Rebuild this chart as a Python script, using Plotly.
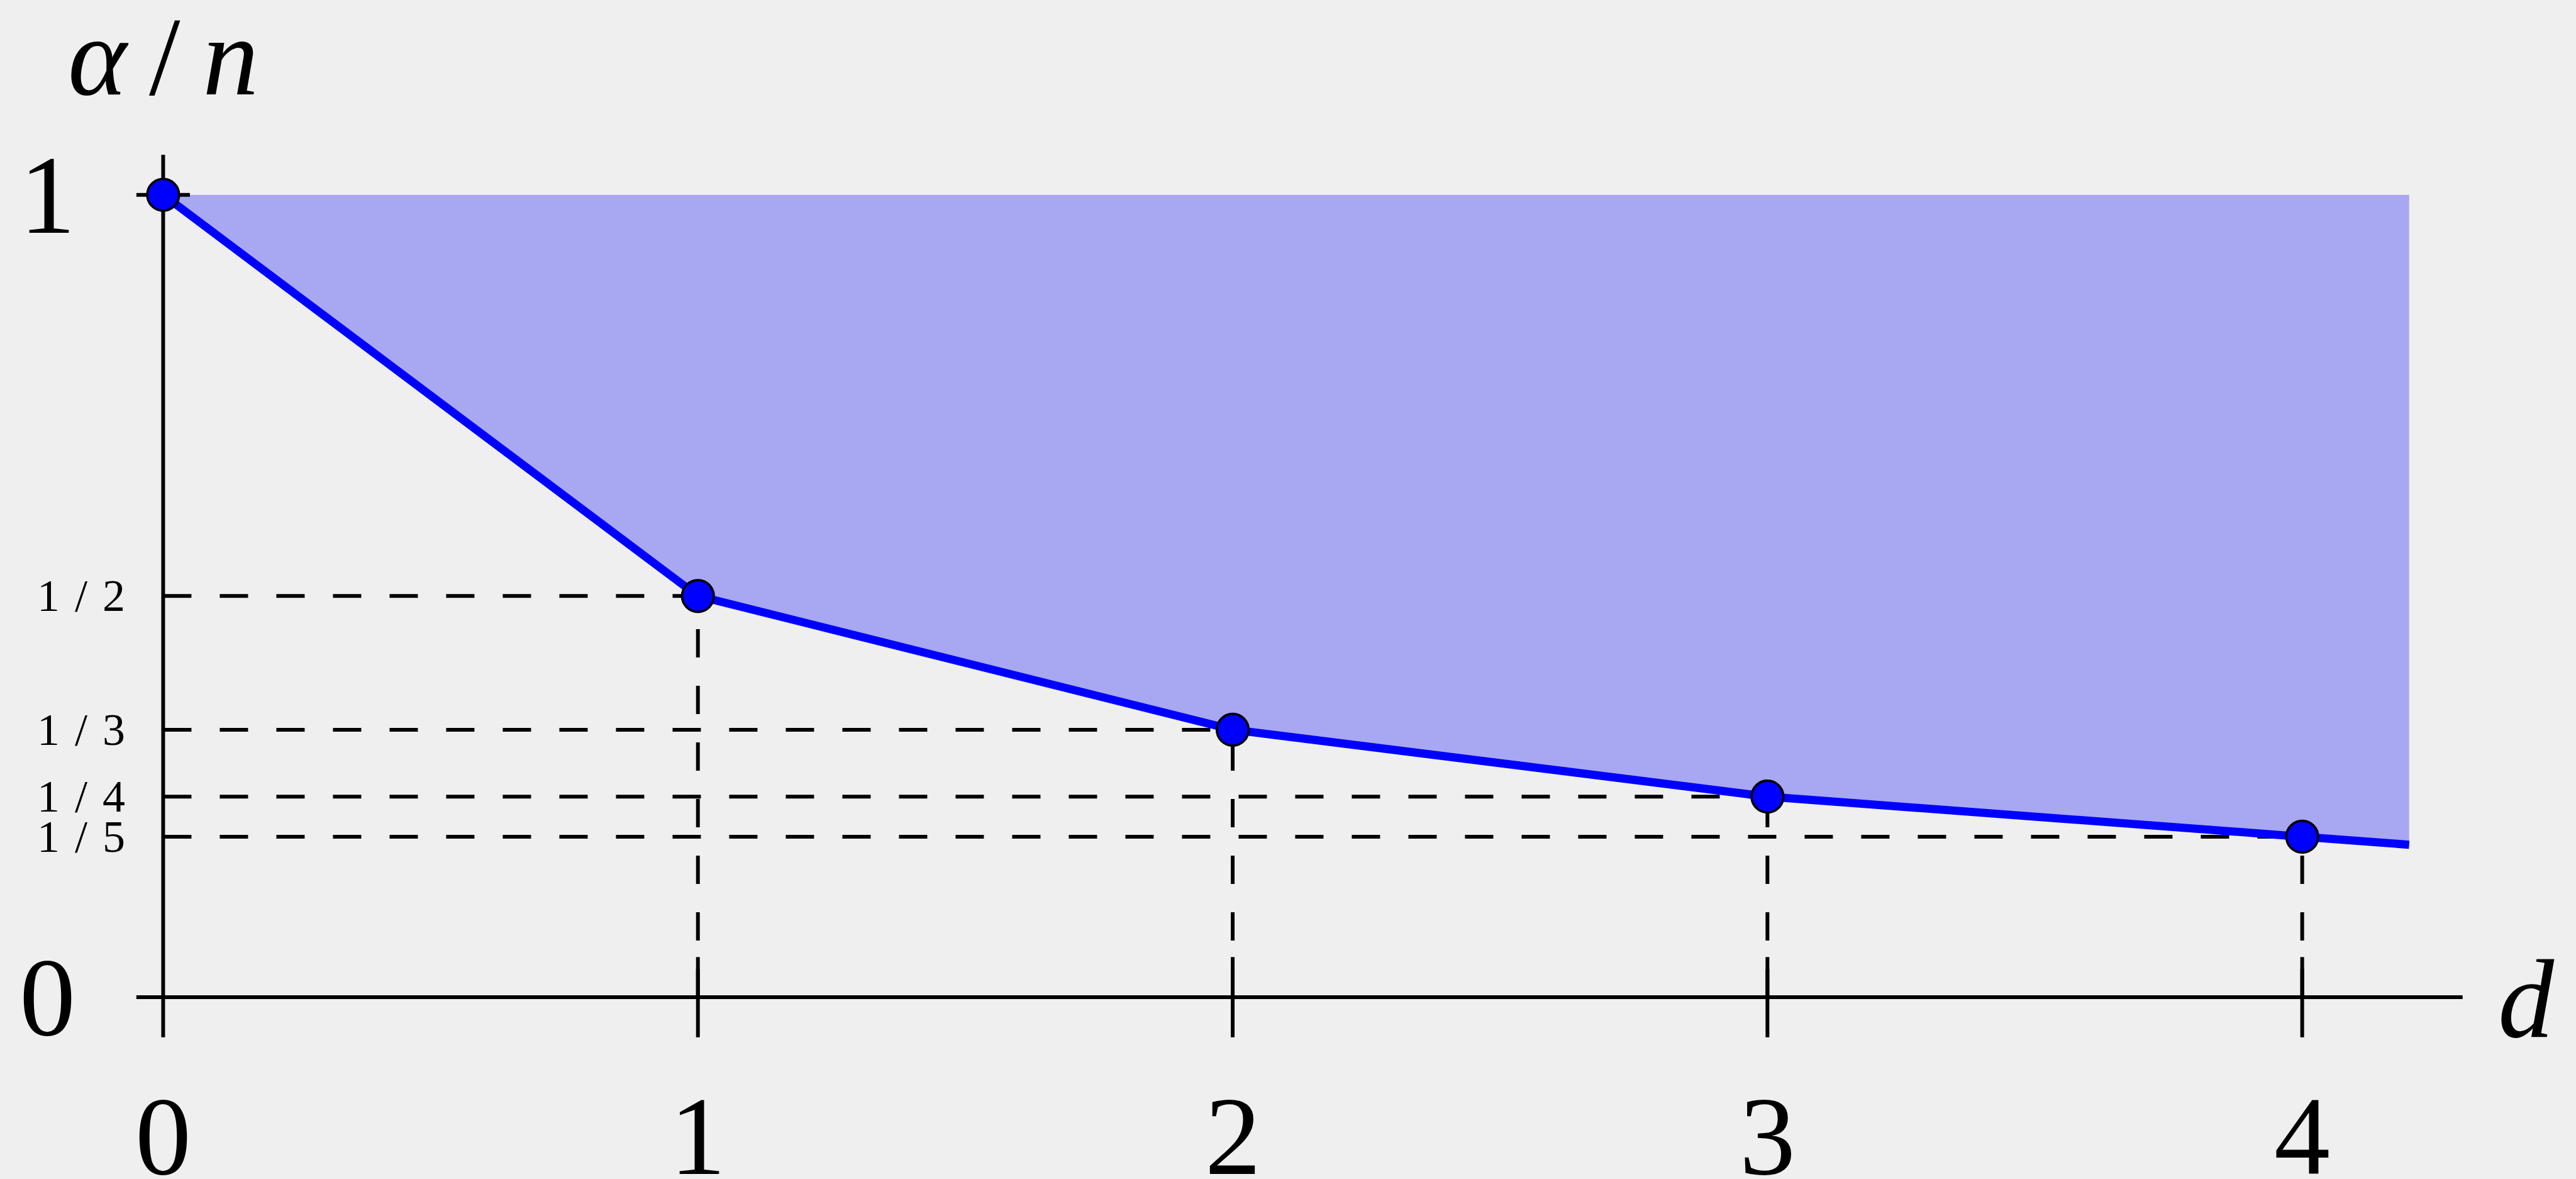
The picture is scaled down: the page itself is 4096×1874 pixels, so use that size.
import plotly.graph_objects as go

# ---- data ----
d_vals = [0, 1, 2, 3, 4]
alpha_vals = [1, 1/2, 1/3, 1/4, 1/5]
d_end = 4.2
alpha_end = 0.19
fill_top = 1.0
x_tick_vals = [0, 1, 2, 3, 4]
x_tick_labels = ["0", "1", "2", "3", "4"]
y_main_vals = [0, 1]
y_main_labels = ["0", "1"]
y_frac_vals = [1/2, 1/3, 1/4, 1/5]
y_frac_labels = ["1\u2004/\u20042", "1\u2004/\u20043", "1\u2004/\u20044", "1\u2004/\u20045"]

W, H = 4096, 1874
X_RANGE = [-0.3051, 4.5120]
Y_RANGE = [-0.2266, 1.2428]

BG = "#efefef"
FILL = "#a7a7f2"
BLUE = "#0000ff"
BLACK = "#000000"
FONT = "Liberation Serif"
LW = 6
DASH = "45px,45px"

fig = go.Figure()

# shaded region above the curve
fig.add_trace(go.Scatter(
    x=d_vals + [d_end, d_end, d_vals[0]],
    y=alpha_vals + [alpha_end, fill_top, fill_top],
    mode="lines", fill="toself", fillcolor=FILL,
    line=dict(width=0, color=FILL), hoverinfo="skip"))

# dashed guides
for dv, av in zip(d_vals[1:], alpha_vals[1:]):
    fig.add_trace(go.Scatter(x=[0, dv], y=[av, av], mode="lines",
                             line=dict(color=BLACK, width=LW, dash=DASH), hoverinfo="skip"))
    fig.add_trace(go.Scatter(x=[dv, dv], y=[0, av], mode="lines",
                             line=dict(color=BLACK, width=LW, dash=DASH), hoverinfo="skip"))

# axes
fig.add_trace(go.Scatter(x=[-0.05, 4.3], y=[0, 0], mode="lines",
                         line=dict(color=BLACK, width=LW), hoverinfo="skip"))
fig.add_trace(go.Scatter(x=[0, 0], y=[-0.05, 1.05], mode="lines",
                         line=dict(color=BLACK, width=LW), hoverinfo="skip"))
# ticks
for xv in x_tick_vals[1:]:
    fig.add_trace(go.Scatter(x=[xv, xv], y=[-0.05, 0.05], mode="lines",
                             line=dict(color=BLACK, width=LW), hoverinfo="skip"))
for yv in y_main_vals:
    fig.add_trace(go.Scatter(x=[-0.05, 0.05], y=[yv, yv], mode="lines",
                             line=dict(color=BLACK, width=LW), hoverinfo="skip"))

# curve
fig.add_trace(go.Scatter(x=d_vals + [d_end], y=alpha_vals + [alpha_end], mode="lines",
                         line=dict(color=BLUE, width=13), hoverinfo="skip"))
fig.add_trace(go.Scatter(x=d_vals, y=alpha_vals, mode="markers",
                         marker=dict(color=BLUE, size=50.5, line=dict(color=BLACK, width=3.7)),
                         hoverinfo="skip"))

ann = []
big = dict(family=FONT, size=178, color=BLACK)
small = dict(family=FONT, size=72, color=BLACK)
for xv, lab in zip(x_tick_vals, x_tick_labels):
    ann.append(dict(x=xv, y=-0.1733, text=lab, showarrow=False, font=big,
                    xanchor="center", yanchor="middle"))
for yv, lab in zip(y_main_vals, y_main_labels):
    ann.append(dict(x=-0.216, y=yv, text=lab, showarrow=False, font=big,
                    xanchor="center", yanchor="middle"))
for yv, lab in zip(y_frac_vals, y_frac_labels):
    ann.append(dict(x=-0.153, y=yv, text=lab, showarrow=False, font=small,
                    xanchor="center", yanchor="middle"))
ann.append(dict(x=0, y=1.1723, text="<i>α</i>\u2009/\u2009<i>n</i>", showarrow=False, font=big,
                xanchor="center", yanchor="middle"))
ann.append(dict(x=4.419, y=-0.002, text="<i>d</i>", showarrow=False, font=big,
                xanchor="center", yanchor="middle"))
for a in ann:
    a["xref"] = "x"
    a["yref"] = "y"

fig.update_layout(
    width=W, height=H, margin=dict(l=0, r=0, t=0, b=0, pad=0),
    paper_bgcolor=BG, plot_bgcolor=BG, showlegend=False,
    xaxis=dict(range=X_RANGE, visible=False, fixedrange=True),
    yaxis=dict(range=Y_RANGE, visible=False, fixedrange=True),
    annotations=ann,
)

fig.write_html(
    "out.html",
    config={"displayModeBar": False},
    post_script=("document.body.style.margin='0';document.body.style.padding='0';"
                 "document.body.style.overflow='hidden';document.body.style.background='#efefef';"),
)
